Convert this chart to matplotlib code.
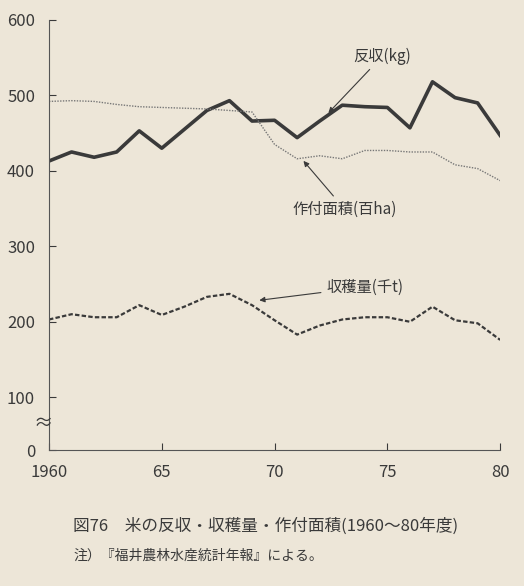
import matplotlib
matplotlib.use("Agg")
import matplotlib.pyplot as plt

plt.rcParams['font.family'] = ['Noto Sans CJK JP', 'DejaVu Sans']

years = list(range(1960, 1981))
yield_kg = [413, 425, 418, 425, 453, 430, 455, 480, 493, 466, 467, 444, 466, 487, 485, 484, 457, 518, 497, 490, 447]
area_100ha = [492, 493, 492, 488, 485, 484, 483, 482, 480, 478, 435, 416, 420, 416, 427, 427, 425, 425, 408, 403, 387]
harvest_kt = [203, 210, 206, 206, 222, 209, 220, 233, 237, 222, 202, 183, 195, 203, 206, 206, 200, 220, 202, 198, 176]
ytick_vals = [30, 100, 200, 300, 400, 500, 600]
ytick_labels = ['0', '100', '200', '300', '400', '500', '600']
xtick_vals = [1960, 1965, 1970, 1975, 1980]
xtick_labels = ['1960', '65', '70', '75', '80']

bg = '#ede6d8'
fig = plt.figure(figsize=(5.24, 5.86), dpi=100, facecolor=bg)
ax = fig.add_axes([0.0935, 0.232, 0.861, 0.734], facecolor=bg)
ink = '#3a3a3a'
ax.plot(years, yield_kg, color=ink, lw=2.6)
ax.plot(years, area_100ha, color='#777', lw=1.0, ls=(0, (1, 1)))
ax.plot(years, harvest_kt, color=ink, lw=1.6, ls=(0, (2, 1)))
ax.set_xlim(1960, 1980)
ax.set_ylim(30, 600)
ax.set_xticks(xtick_vals, xtick_labels)
ax.set_yticks(ytick_vals, ytick_labels)
for s in ['top', 'right']:
    ax.spines[s].set_visible(False)
for s in ['left', 'bottom']:
    ax.spines[s].set_color('#555')
ax.tick_params(colors=ink, labelsize=12, direction='in', length=5, width=0.8)
ax.tick_params(axis='y', pad=10)
ax.tick_params(axis='x', pad=10)
ax.text(1959.75, 65, '≈', fontsize=14, color=ink, ha='center', va='center', clip_on=False)

ap = dict(arrowstyle='-|>', color=ink, lw=0.8, mutation_scale=8)
ax.annotate('反収(kg)', xy=(1972.3, 474), xytext=(1973.5, 546), fontsize=11, color=ink, arrowprops=ap)
ax.annotate('作付面積(百ha)', xy=(1971.2, 416), xytext=(1970.8, 343), fontsize=11, color=ink, arrowprops=ap)
ax.annotate('収穫量(千t)', xy=(1969.2, 228), xytext=(1972.3, 246), fontsize=11, color=ink, arrowprops=ap, va='center')

fig.text(0.14, 0.095, '図76　米の反収・収穫量・作付面積(1960～80年度)', fontsize=12, color=ink)
fig.text(0.14, 0.045, '注）『福井農林水産統計年報』による。', fontsize=10, color=ink)
fig.savefig('out.png', dpi=100, facecolor=bg)
